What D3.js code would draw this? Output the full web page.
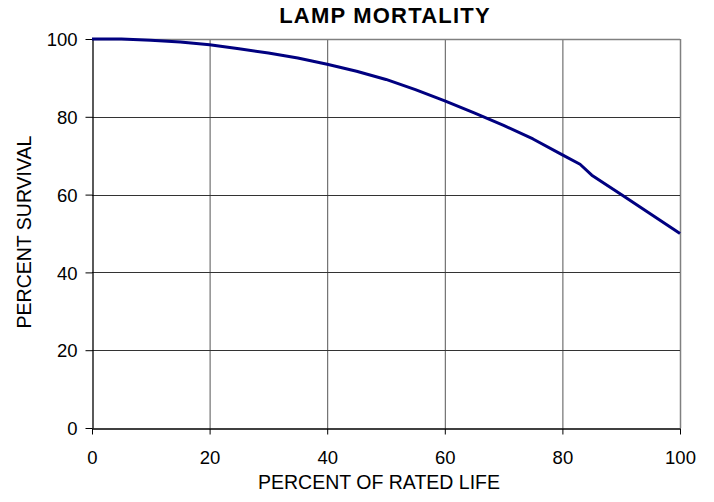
<!DOCTYPE html>
<html>
<head>
<meta charset="utf-8">
<script src="https://cdn.jsdelivr.net/npm/d3@7"></script>
<style>
  body { margin: 0; background: #fff; }
  text { font-family: "Liberation Sans", Arial, sans-serif; fill: #000; }
</style>
</head>
<body>
<script>
// percent of rated life vs. percent of lamps still burning
const ratedLife = [0, 5, 10, 15, 20, 25, 30, 35, 40, 45, 50, 55, 60, 65, 70, 75, 80, 83, 85, 90, 95, 100];
const survival = [100, 100, 99.7, 99.2, 98.5, 97.5, 96.4, 95.1, 93.5, 91.7, 89.6, 87, 84.1, 81, 77.8, 74.3, 70.2, 67.8, 65, 60, 55, 50];
const xTicks = [0, 20, 40, 60, 80, 100];
const yTicks = [0, 20, 40, 60, 80, 100];

const data = ratedLife.map((x, i) => ({ x, y: survival[i] }));

const margin = { top: 39, right: 34, bottom: 74, left: 92 };
const width = 714 - margin.left - margin.right;
const height = 502 - margin.top - margin.bottom;

const root = d3
  .select("body")
  .append("svg")
  .attr("width", 714)
  .attr("height", 502);

const svg = root
  .append("g")
  .attr("transform", `translate(${margin.left},${margin.top})`);

const xScale = d3.scaleLinear().domain([0, 100]).range([0, width]);
const yScale = d3.scaleLinear().domain([0, 100]).range([height, 0]);

// gridlines
svg
  .append("g")
  .attr("class", "grid")
  .selectAll("line.v")
  .data(xTicks.slice(1))
  .enter()
  .append("line")
  .attr("x1", (d) => xScale(d) + 0.5)
  .attr("x2", (d) => xScale(d) + 0.5)
  .attr("y1", 0)
  .attr("y2", height)
  .attr("stroke", (d) => (d === 100 ? "#808080" : "#555"))
  .attr("stroke-width", (d) => (d === 100 ? 1.5 : 1));

svg
  .append("g")
  .attr("class", "grid")
  .selectAll("line.h")
  .data(yTicks.slice(1))
  .enter()
  .append("line")
  .attr("x1", 0)
  .attr("x2", width)
  .attr("y1", (d) => Math.round(yScale(d)) + 0.5)
  .attr("y2", (d) => Math.round(yScale(d)) + 0.5)
  .attr("stroke", (d) => (d === 100 ? "#808080" : "#333"))
  .attr("stroke-width", (d) => (d === 100 ? 1.5 : 1));

// axes
const xAxis = svg
  .append("g")
  .attr("transform", `translate(0,${height + 0.5})`)
  .call(d3.axisBottom(xScale).tickValues(xTicks).tickSize(6).tickSizeOuter(0).tickPadding(16));

const yAxis = svg
  .append("g")
  .attr("transform", "translate(0.5,0)")
  .call(d3.axisLeft(yScale).tickValues(yTicks).tickSize(7).tickSizeOuter(0).tickPadding(8));

[xAxis, yAxis].forEach((ax) => {
  ax.select(".domain").attr("stroke", "#000").attr("stroke-width", 1.3);
  ax.selectAll(".tick line").attr("stroke", "#000");
  ax.selectAll(".tick text")
    .attr("font-size", 18.5)
    .attr("font-family", "Liberation Sans, Arial, sans-serif")
    .attr("fill", "#000");
});
yAxis.selectAll(".tick text").attr("dy", "0.36em");

// survival curve
const line = d3
  .line()
  .x((d) => xScale(d.x))
  .y((d) => yScale(d.y));

svg
  .append("path")
  .datum(data)
  .attr("fill", "none")
  .attr("stroke", "#000080")
  .attr("stroke-width", 3)
  .attr("stroke-linejoin", "round")
  .attr("d", line);

// titles
root
  .append("text")
  .attr("x", 385)
  .attr("y", 23)
  .attr("text-anchor", "middle")
  .attr("font-size", 22)
  .attr("font-weight", "bold")
  .attr("letter-spacing", 1.2)
  .text("LAMP MORTALITY");

root
  .append("text")
  .attr("x", 379)
  .attr("y", 489)
  .attr("text-anchor", "middle")
  .attr("font-size", 19.5)
  .text("PERCENT OF RATED LIFE");

root
  .append("text")
  .attr("transform", "translate(30.5,232) rotate(-90)")
  .attr("text-anchor", "middle")
  .attr("font-size", 19.5)
  .text("PERCENT SURVIVAL");
</script>
</body>
</html>
